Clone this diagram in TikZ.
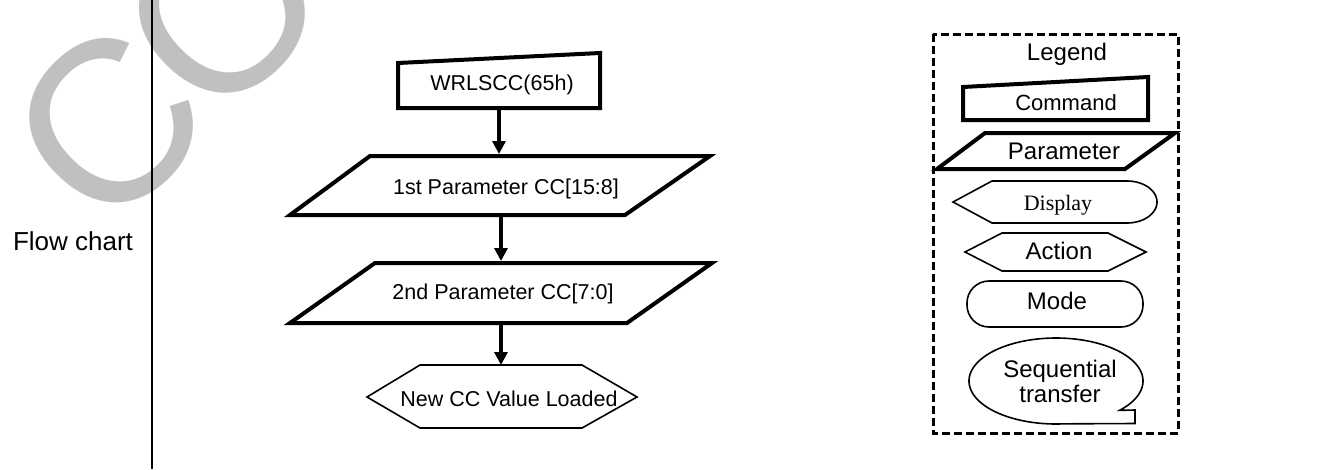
\documentclass[tikz,border=0pt]{standalone}
\usepackage{fontspec}
\setmainfont{Liberation Sans}
\newfontfamily\serifdisp{Liberation Serif}
\usetikzlibrary{arrows.meta}
\definecolor{wmgray}{RGB}{192,192,192}
\begin{document}
\begin{tikzpicture}[x=1pt,y=-1pt,
  thickshape/.style={line width=4pt},
  thinshape/.style={line width=1.6pt},
  flowarrow/.style={line width=3.5pt,-{Triangle[length=13pt,width=13pt]}},
  maintext/.style={inner sep=0pt,anchor=base,font=\fontsize{21.5}{25}\selectfont},
  legtext/.style={inner sep=0pt,anchor=base,font=\fontsize{24}{25}\selectfont},
  wm/.style={inner sep=0pt,rotate=45,text=wmgray,font=\fontsize{230}{230}\selectfont}
]
\useasboundingbox (0,0) rectangle (1336,469);
\begin{scope}
  \clip (0,0) rectangle (1336,469);
  \node[wm] (watermark) at (168,65) {C\kern-10pt O};
\end{scope}

% divider
\coordinate (divtop) at (152,0);
\coordinate (divbot) at (152,469);
\draw[line width=2pt] (divtop) -- (divbot);
\node[inner sep=0pt,anchor=base,font=\fontsize{26}{30}\selectfont] (flowlabel) at (73,250) {Flow chart};

% flow chart shapes
\draw[thickshape] (398,63) -- (600,53) -- (600,108) -- (398,108) -- cycle;
\node[maintext] (cmdtext) at (502,90) {WRLSCC(65h)};
\coordinate (cmdS) at (499,110);

\draw[thickshape] (370,156) -- (710,156) -- (625,215) -- (290,215) -- cycle;
\node[maintext] (ponetext) at (506,194) {1st Parameter CC[15:8]};
\coordinate (poneN) at (499,154);
\coordinate (poneS) at (501,217);

\draw[thickshape] (375,263) -- (712,263) -- (627,323) -- (290,323) -- cycle;
\node[maintext] (ptwotext) at (503,299) {2nd Parameter CC[7:0]};
\coordinate (ptwoN) at (501,261);
\coordinate (ptwoS) at (501,325);

\draw[thinshape] (367,397) -- (420,365) -- (582,365) -- (637,397) -- (582,428) -- (420,428) -- cycle;
\node[maintext] (hextext) at (509,406) {New CC Value Loaded};
\coordinate (hexN) at (501,365);

\draw[flowarrow] (cmdS) -- (poneN);
\draw[flowarrow] (poneS) -- (ptwoN);
\draw[flowarrow] (ptwoS) -- (hexN);

% legend
\draw[line width=3pt,dash pattern=on 8pt off 4pt] (933,34) rectangle (1178,433);
\node[legtext] (legendtitle) at (1067,60) {Legend};

\draw[thickshape] (963,87) -- (1148,77) -- (1148,120) -- (963,120) -- cycle;
\node[inner sep=0pt,anchor=base,font=\fontsize{22}{25}\selectfont] (legcmd) at (1066,110) {Command};

\draw[thickshape] (985,133) -- (1175,133) -- (1125,169) -- (937,169) -- cycle;
\node[legtext] (legpar) at (1064,159) {Parameter};

\draw[thinshape] (953,202) -- (992,181) -- (1127,181)
  -- plot[domain=90:-90,samples=40,variable=\t] ({1127+30*cos(\t)},{202-21*sin(\t)})
  -- (992,223) -- cycle;
\node[inner sep=0pt,anchor=base,font=\serifdisp\fontsize{22}{25}\selectfont] (legdisp) at (1058,210) {Display};

\draw[thinshape] (965,252) -- (1002,233) -- (1108,233) -- (1146,252) -- (1108,271) -- (1002,271) -- cycle;
\node[legtext] (legact) at (1059,259) {Action};

\draw[thinshape,rounded corners=22pt] (967,281) rectangle (1143,327);
\node[legtext] (legmode) at (1057,309) {Mode};

\draw[thinshape] plot[domain=-43:275,samples=120,variable=\t] ({1056+87*cos(\t)},{381-43*sin(\t)})
  -- (1135,423.5) -- (1135,410) -- cycle;
\node[inner sep=0pt,align=center,font=\fontsize{24}{25}\selectfont] (legseq) at (1060,381) {Sequential\\transfer};
\end{tikzpicture}
\end{document}
